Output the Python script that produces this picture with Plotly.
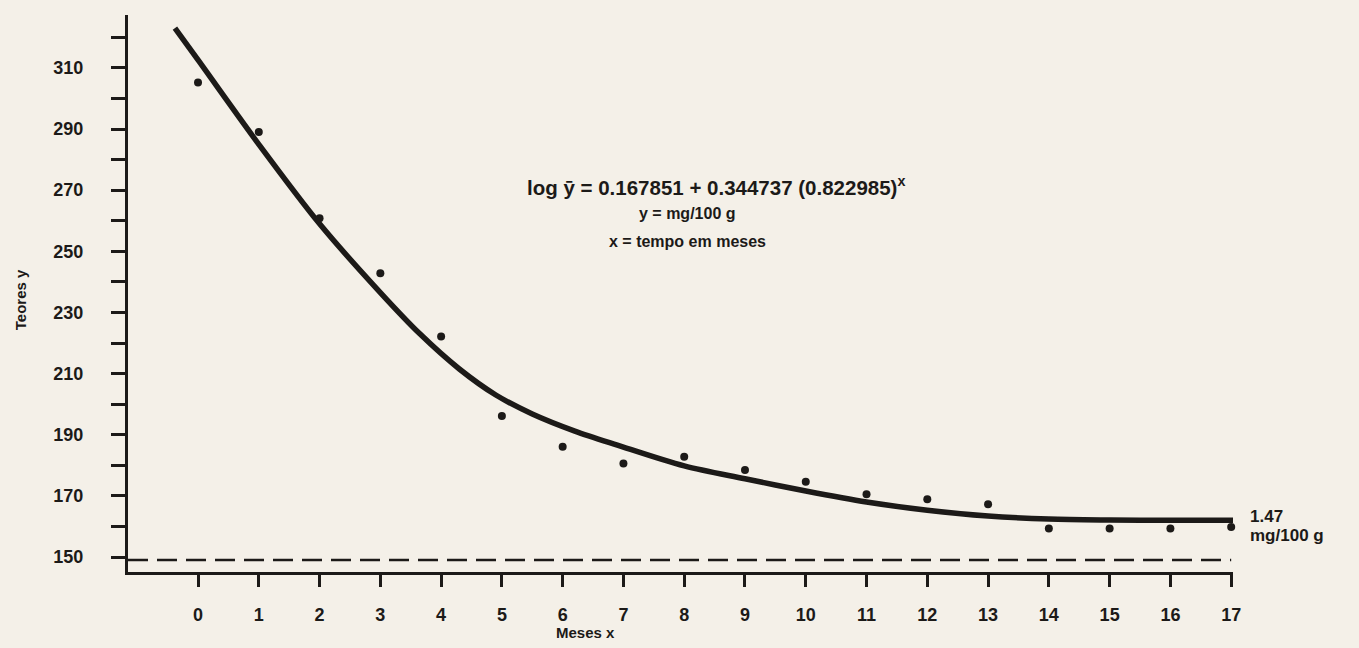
import plotly.graph_objects as go

# Observed data points (months, content)
months = list(range(18))
teores = [305.2, 289.0, 260.8, 242.8, 222.1, 196.1, 186.1, 180.6, 182.8,
          178.5, 174.6, 170.5, 168.9, 167.3, 159.3, 159.3, 159.3, 159.8]

# Fitted curve
curve_x = [-0.38, 0, 1, 2, 3, 3.65, 4.3, 4.9, 5.5, 6.2, 6.9, 8, 9, 10,
           11, 12, 13, 14, 15, 16, 17.03]
curve_y = [323.0, 312.6, 285.0, 259.0, 236.5, 223.0, 211.5, 203.0, 196.8,
           191.2, 186.6, 179.8, 175.6, 171.6, 168.0, 165.3, 163.4, 162.4,
           162.1, 162.0, 162.0]

# Asymptote (dashed)
asym_x = [-1.152, 17.0]
asym_y = [149.0, 149.0]

x_ticks = list(range(18))
y_ticks = list(range(150, 330, 10))
y_labels = [str(v) if (v - 150) % 20 == 0 and v <= 310 else "" for v in y_ticks]

INK = "#1c1a18"
BG = "#f4f0e8"
FONT = "Arial, Liberation Sans, sans-serif"
PLOT_L, PLOT_W = 128, 1105


def f(size, weight="bold"):
    return dict(family=FONT, color=INK, size=size, weight=weight)


fig = go.Figure()
fig.add_trace(go.Scatter(x=asym_x, y=asym_y, mode="lines",
                         line=dict(color=INK, width=2.5, dash="20px,9px"),
                         hoverinfo="skip", showlegend=False))
fig.add_trace(go.Scatter(x=curve_x, y=curve_y, mode="lines",
                         line=dict(color=INK, width=5.5, shape="spline", smoothing=0.9),
                         showlegend=False))
fig.add_trace(go.Scatter(x=months, y=teores, mode="markers",
                         marker=dict(color=INK, size=8),
                         showlegend=False, cliponaxis=False))

fig.update_layout(
    width=1359, height=648,
    margin=dict(l=PLOT_L, r=1359 - PLOT_L - PLOT_W, t=15, b=76),
    paper_bgcolor=BG, plot_bgcolor=BG,
    font=dict(family=FONT, color=INK, size=15),
    xaxis=dict(range=[-1.152, 17.03], tickvals=x_ticks, ticktext=[str(v) for v in x_ticks],
               showline=True, linecolor=INK, linewidth=3, ticks="outside",
               ticklen=12, tickwidth=3, tickcolor=INK, showgrid=False, zeroline=False,
               tickfont=f(18), ticklabelstandoff=12),
    yaxis=dict(range=[145.1, 327.3], tickvals=y_ticks, ticktext=y_labels,
               showline=True, linecolor=INK, linewidth=3, ticks="outside",
               ticklen=14, tickwidth=3, tickcolor=INK, showgrid=False, zeroline=False,
               tickfont=f(18), ticklabelstandoff=24),
)

fig.add_annotation(text="Teores y", xref="paper", yref="paper", x=(20 - PLOT_L) / PLOT_W, y=0.488,
                   textangle=-90, xanchor="center", yanchor="middle",
                   showarrow=False, font=f(15))
fig.add_annotation(text="Meses x", xref="x", yref="paper", x=6.37, y=-0.1095,
                   xanchor="center", yanchor="middle", showarrow=False, font=f(15))
fig.add_annotation(text="log ȳ = 0.167851 + 0.344737 (0.822985)<sup>x</sup>",
                   xref="x", yref="y", x=5.38, y=271.4, xanchor="left", yanchor="middle",
                   showarrow=False, font=f(20.5))
fig.add_annotation(text="y = mg/100 g", xref="x", yref="y", x=8.05, y=262.4,
                   xanchor="center", yanchor="middle", showarrow=False, font=f(16))
fig.add_annotation(text="x = tempo em meses", xref="x", yref="y", x=8.05, y=253.2,
                   xanchor="center", yanchor="middle", showarrow=False, font=f(16))
fig.add_annotation(text="1.47", xref="paper", yref="y", x=(1248 - PLOT_L) / PLOT_W, y=163.4,
                   xanchor="left", yanchor="middle", showarrow=False, font=f(17))
fig.add_annotation(text="mg/100 g", xref="paper", yref="y", x=(1248 - PLOT_L) / PLOT_W, y=156.9,
                   xanchor="left", yanchor="middle", showarrow=False, font=f(17))

fig.write_html("out.html",
               config={"displayModeBar": False},
               post_script="document.body.style.margin='0';"
                           "document.body.style.background='#f4f0e8';")
